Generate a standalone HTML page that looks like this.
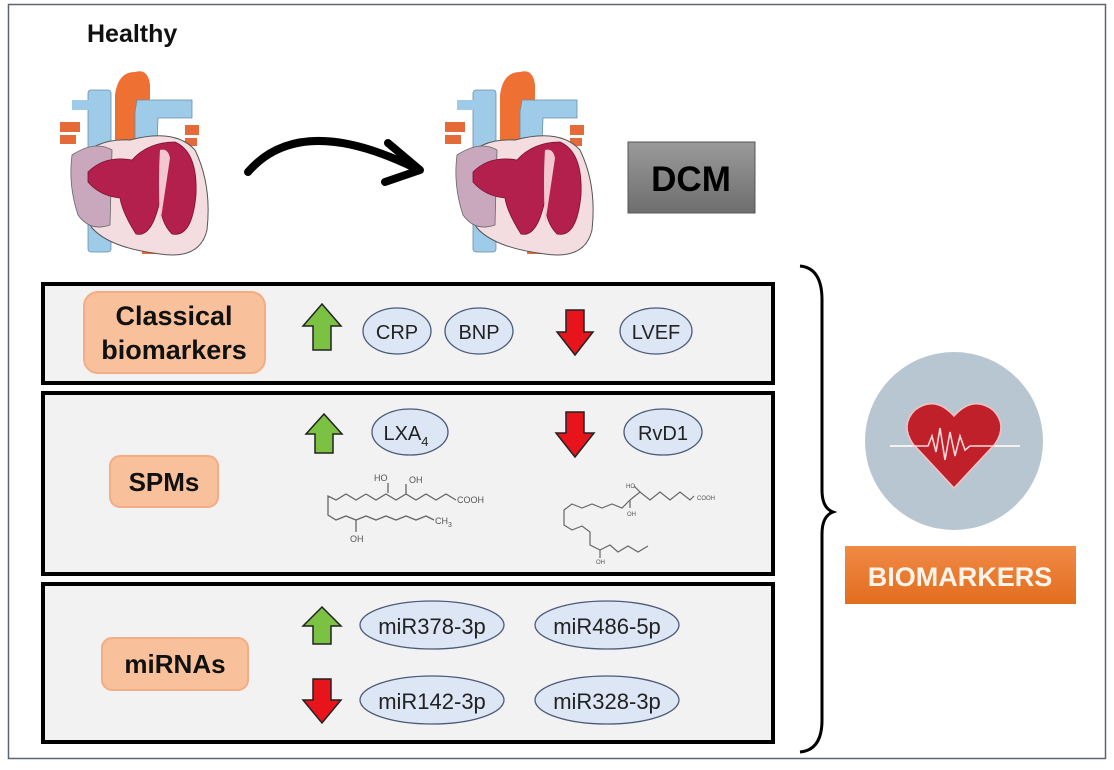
<!DOCTYPE html>
<html><head><meta charset="utf-8"><style>
html,body{margin:0;padding:0;background:#fff;}
svg{display:block;font-family:"Liberation Sans",sans-serif;}
.lbl{font-family:"Liberation Sans Narrow","Liberation Sans",sans-serif;}
</style></head><body>
<svg width="1114" height="770" viewBox="0 0 1114 770" xmlns="http://www.w3.org/2000/svg">
<defs>
<linearGradient id="dcm" x1="0" y1="0" x2="0" y2="1"><stop offset="0" stop-color="#9a9a9a"/><stop offset="1" stop-color="#6e6e6e"/></linearGradient>
<linearGradient id="bio" x1="0" y1="0" x2="0" y2="1"><stop offset="0" stop-color="#f08a45"/><stop offset="1" stop-color="#e36d1f"/></linearGradient>
<g id="heart">
  <rect x="60" y="122" width="20" height="10" fill="#e56a3a"/>
  <rect x="60" y="135" width="16" height="9" fill="#e56a3a"/>
  <rect x="185" y="125" width="14" height="10" fill="#e56a3a"/>
  <rect x="185" y="138" width="12" height="8" fill="#e56a3a"/>
  <rect x="142" y="242" width="20" height="12" fill="#e56a3a"/>
  <rect x="88" y="90" width="23" height="162" rx="3" fill="#9dcbe8" stroke="#6a8fa8" stroke-width="0.8"/>
  <rect x="72" y="100" width="20" height="10" fill="#9dcbe8"/>
  <path d="M115 170 L115 95 Q118 72 135 72 Q148 68 150 85 L150 170 Z" fill="#ee7033"/>
  <path d="M135 170 L135 112 L137 100 L192 100 L192 118 L158 118 L156 170 Z" fill="#9dcbe8" stroke="#6a8fa8" stroke-width="0.8"/>
  <path d="M80 160 Q95 138 130 140 Q175 128 195 150 Q212 185 207 230 Q200 260 160 254 Q110 248 92 228 Q75 200 80 160 Z" fill="#f3dde0" stroke="#555" stroke-width="1"/>
  <path d="M72 155 Q95 140 112 150 L110 225 Q90 232 78 215 Q68 185 72 155 Z" fill="#c9a7bd" stroke="#666" stroke-width="0.8"/>
  <path d="M88 172 Q105 155 132 160 Q148 142 175 142 Q198 152 196 195 Q192 238 172 234 Q160 222 160 200 Q152 238 136 234 Q122 212 120 198 Q100 196 88 182 Z" fill="#b3204e" stroke="#7a1030" stroke-width="0.8"/>
  <path d="M160 150 Q168 148 170 158 L160 225 Q158 180 160 150 Z" fill="#f3c7d0"/>
</g>
</defs>
<rect x="0" y="0" width="1114" height="770" fill="#fff"/>
<rect x="8.5" y="4.5" width="1097" height="754" fill="none" stroke="#5c6670" stroke-width="1.5"/>
<text x="87" y="42" font-size="25" font-weight="bold" fill="#111">Healthy</text>
<use href="#heart"/>
<use href="#heart" transform="translate(385,0)"/>
<path d="M248 172 Q300 112 415 168" fill="none" stroke="#000" stroke-width="8" stroke-linecap="round"/>
<path d="M388 143 L420 170 L385 182" fill="none" stroke="#000" stroke-width="8" stroke-linecap="round" stroke-linejoin="round"/>
<rect x="628" y="142" width="127" height="71" fill="url(#dcm)" stroke="#555" stroke-width="1"/>
<text x="691" y="191" font-size="35" font-weight="bold" fill="#000" text-anchor="middle">DCM</text>

<rect x="43" y="284" width="730" height="99" fill="#f2f2f2" stroke="#000" stroke-width="4"/>
<rect x="43" y="393" width="730" height="181" fill="#f2f2f2" stroke="#000" stroke-width="4"/>
<rect x="43" y="584" width="730" height="158" fill="#f2f2f2" stroke="#000" stroke-width="4"/>

<rect x="84" y="292" width="181" height="81" rx="14" fill="#f8c19b" stroke="#f3ad85" stroke-width="2"/>
<text class="lbl" x="174" y="325" font-size="27" font-weight="bold" text-anchor="middle" fill="#111">Classical</text>
<text class="lbl" x="174" y="359" font-size="27" font-weight="bold" text-anchor="middle" fill="#111">biomarkers</text>
<rect x="110" y="456" width="108" height="51" rx="10" fill="#f8c19b" stroke="#f3ad85" stroke-width="2"/>
<text x="164" y="491" font-size="26" font-weight="bold" text-anchor="middle" fill="#111">SPMs</text>
<rect x="102" y="638" width="146" height="52" rx="10" fill="#f8c19b" stroke="#f3ad85" stroke-width="2"/>
<text x="175" y="673" font-size="26" font-weight="bold" text-anchor="middle" fill="#111">miRNAs</text>

<g stroke="#222" stroke-width="1.5">
<path d="M322 304 L341 326 L331 326 L331 350 L313 350 L313 326 L303 326 Z" fill="#7cc242"/>
<path d="M324 414 L342 434 L333 434 L333 453 L315 453 L315 434 L306 434 Z" fill="#7cc242"/>
<path d="M322 607 L341 626 L331 626 L331 644 L313 644 L313 626 L303 626 Z" fill="#7cc242"/>
<path d="M566 310 L584 310 L584 332 L593 332 L575 355 L557 332 L566 332 Z" fill="#e8141b"/>
<path d="M566 412 L584 412 L584 433 L594 433 L575 457 L556 433 L566 433 Z" fill="#e8141b"/>
<path d="M313 679 L331 679 L331 700 L341 700 L322 723 L303 700 L313 700 Z" fill="#e8141b"/>
</g>

<g fill="#dce6f4" stroke="#4a5a78" stroke-width="1.3">
<ellipse cx="397" cy="331" rx="34" ry="23"/>
<ellipse cx="479" cy="331" rx="34" ry="23"/>
<ellipse cx="656" cy="331" rx="36" ry="23"/>
<ellipse cx="410" cy="432" rx="38" ry="23"/>
<ellipse cx="663" cy="432" rx="39" ry="23"/>
<ellipse cx="432" cy="625" rx="72" ry="24"/>
<ellipse cx="607" cy="625" rx="72" ry="24"/>
<ellipse cx="432" cy="700" rx="72" ry="24"/>
<ellipse cx="607" cy="700" rx="72" ry="24"/>
</g>
<g class="lbl" font-size="20" fill="#222" text-anchor="middle">
<text x="397" y="339">CRP</text>
<text x="479" y="339">BNP</text>
<text x="656" y="339">LVEF</text>
<text x="406" y="440">LXA<tspan font-size="13" dy="6">4</tspan></text>
<text x="663" y="440">RvD1</text>
<text x="432" y="634" font-size="22">miR378-3p</text>
<text x="607" y="634" font-size="22">miR486-5p</text>
<text x="432" y="709" font-size="22">miR142-3p</text>
<text x="607" y="709" font-size="22">miR328-3p</text>
</g>

<g fill="none" stroke="#666" stroke-width="1.3">
<polyline points="366,494 356,500 346,494 336,500 328,496 328,515 336,520 346,516 356,520 366,516 376,520 386,516 396,520 406,516 416,520 426,516 434,520"/>
<polyline points="366,494 376,500 386,494 396,500 406,494 416,500 426,494 436,500 446,494 456,500"/>
<line x1="388" y1="493" x2="388" y2="483"/><line x1="406" y1="494" x2="406" y2="484"/>
<line x1="356" y1="520" x2="356" y2="532"/>
</g>
<g font-size="9" fill="#555">
<text x="374" y="481">HO</text><text x="409" y="483">OH</text>
<text x="457" y="503">COOH</text><text x="435" y="524">CH<tspan font-size="7" dy="3">3</tspan></text>
<text x="350" y="542">OH</text>
</g>
<g fill="none" stroke="#666" stroke-width="1.2">
<polyline points="630,500 622,508 612,504 602,508 592,504 582,508 572,504 564,510 564,525 572,530 582,526 590,532 590,545 600,550 610,545 618,552 628,546 638,552 648,546"/>
<polyline points="630,500 640,492 650,500 660,492 670,500 680,492 690,500 694,496"/>
<line x1="630" y1="500" x2="630" y2="508"/><line x1="640" y1="492" x2="634" y2="486"/>
<line x1="600" y1="550" x2="600" y2="558"/>
</g>
<g font-size="6" fill="#555"><text x="626" y="488">HO</text><text x="627" y="516">OH</text><text x="697" y="500">COOH</text><text x="596" y="564">OH</text></g>

<path d="M800 266 Q822 268 822 300 L822 490 Q822 508 833 512 Q822 516 822 534 L822 720 Q822 750 800 752" fill="none" stroke="#000" stroke-width="3"/>

<circle cx="954" cy="441" r="89" fill="#b8c6d2"/>
<line x1="890" y1="446" x2="1020" y2="446" stroke="#f2f2f2" stroke-width="2"/>
<path d="M954 488 L913 444 Q900 425 915 410 Q935 395 954 416 Q973 395 993 410 Q1008 425 995 444 Z" fill="#c0202a" stroke="#f4c4c4" stroke-width="1.5"/>
<polyline points="912,446 928,446 932,436 936,452 940,428 945,460 950,432 955,456 960,436 965,450 970,446 995,446" fill="none" stroke="#fbd8d8" stroke-width="1.6"/>
<rect x="845" y="546" width="231" height="58" fill="url(#bio)"/>
<text x="960" y="586" font-size="27" font-weight="bold" fill="#fff4ea" text-anchor="middle">BIOMARKERS</text>
</svg>
</body></html>
